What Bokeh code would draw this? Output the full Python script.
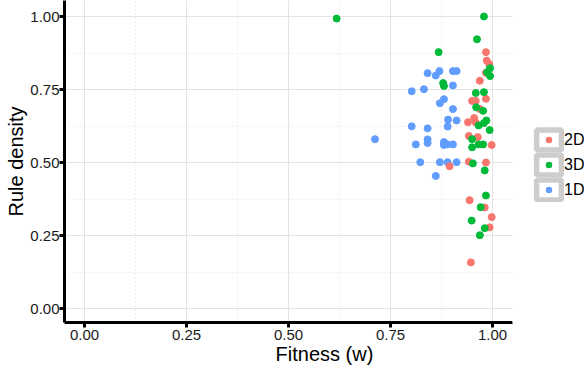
from bokeh.plotting import figure
from bokeh.models import (Legend, LegendItem, SingleIntervalTicker, BoxAnnotation,
                          NumeralTickFormatter, Range1d)
from bokeh.embed import file_html
from bokeh.resources import INLINE

# ---- data -------------------------------------------------------------
categories = ["2D", "3D", "1D"]
colors = ["#F8766D", "#00BA38", "#619CFF"]

fit_2d = [0.984, 0.986, 0.992, 0.984, 0.969, 0.984, 0.950, 0.959, 0.969, 0.955,
          0.940, 0.959, 0.942, 0.964, 0.998, 0.895, 0.942, 0.984, 0.944, 0.981,
          0.998, 0.993, 0.947]
dens_2d = [0.878, 0.849, 0.837, 0.807, 0.780, 0.718, 0.711, 0.711, 0.683, 0.652,
           0.638, 0.637, 0.591, 0.587, 0.560, 0.487, 0.503, 0.500, 0.371, 0.346,
           0.313, 0.278, 0.158]

fit_3d = [0.979, 0.962, 0.868, 0.618, 0.994, 0.987, 0.994, 0.879, 0.881, 0.959,
          0.979, 0.960, 0.977, 0.985, 0.979, 0.966, 0.993, 0.950, 0.950, 0.966,
          0.977, 0.952, 0.981, 0.984, 0.971, 0.949, 0.981, 0.969]
dens_3d = [1.000, 0.922, 0.878, 0.993, 0.823, 0.809, 0.796, 0.772, 0.762, 0.738,
           0.741, 0.689, 0.677, 0.644, 0.635, 0.627, 0.611, 0.580, 0.552, 0.562,
           0.562, 0.497, 0.473, 0.387, 0.347, 0.301, 0.275, 0.251]

fit_1d = [0.841, 0.861, 0.870, 0.903, 0.912, 0.903, 0.832, 0.802, 0.881, 0.871,
          0.903, 0.891, 0.912, 0.802, 0.841, 0.890, 0.712, 0.841, 0.841, 0.812,
          0.881, 0.881, 0.890, 0.903, 0.823, 0.871, 0.890, 0.912, 0.861]
dens_1d = [0.806, 0.798, 0.813, 0.813, 0.813, 0.764, 0.751, 0.744, 0.717, 0.703,
           0.683, 0.647, 0.644, 0.624, 0.617, 0.623, 0.580, 0.579, 0.567, 0.562,
           0.570, 0.560, 0.562, 0.562, 0.501, 0.501, 0.501, 0.501, 0.454]

series = {
    "2D": (fit_2d, dens_2d),
    "3D": (fit_3d, dens_3d),
    "1D": (fit_1d, dens_1d),
}
draw_order = ["1D", "2D", "3D"]

x_title = "Fitness (w)"
y_title = "Rule density"

# ---- figure -----------------------------------------------------------
FONT = "Liberation Sans"
NAN = float("nan")
X_LO, X_HI = -0.049, 1.049          # panel extent of the plotted area

# the frame runs on to the right edge so the legend can sit inside it;
# axis / grid are bounded to the panel and the strip beyond is masked
p = figure(width=584, height=370, output_backend="svg", toolbar_location=None,
           x_range=Range1d(X_LO, 1.2255), y_range=Range1d(-0.0479, 1.0548),
           min_border_left=64, min_border_right=0, min_border_top=0,
           min_border_bottom=48)
p.outline_line_color = None
p.background_fill_color = "white"

ticker = SingleIntervalTicker(interval=0.25, num_minor_ticks=2)
for ax in (p.xaxis[0], p.yaxis[0]):
    ax.ticker = ticker
    ax.formatter = NumeralTickFormatter(format="0.00")
    ax.axis_line_width = 3
    ax.axis_line_color = "black"
    ax.major_tick_line_width = 3
    ax.major_tick_line_color = "black"
    ax.major_tick_in = 0
    ax.major_tick_out = 5
    ax.minor_tick_line_color = None
    ax.major_label_text_font = FONT
    ax.major_label_text_font_size = "15px"
    ax.major_label_text_color = "#1a1a1a"
    ax.axis_label_text_font = FONT
    ax.axis_label_text_font_size = "20px"
    ax.axis_label_text_font_style = "normal"
    ax.axis_label_text_color = "black"
    ax.axis_label_standoff = 0

p.xaxis.bounds = (X_LO, X_HI)
p.xaxis.major_label_standoff = 2
p.yaxis.major_label_standoff = 0
p.xaxis.axis_label = x_title
p.yaxis.axis_label = y_title

for g in (p.xgrid[0], p.ygrid[0]):
    g.ticker = ticker
    g.grid_line_color = "#E3E3E3"
    g.grid_line_width = 1
    g.minor_grid_line_color = "#DCDCDC"
    g.minor_grid_line_width = 1
    g.minor_grid_line_dash = "1 3"
p.xgrid.bounds = (X_LO, X_HI)

color_of = dict(zip(categories, colors))
for cat in draw_order:
    xs, ys = series[cat]
    p.scatter(xs, ys, size=7, fill_color=color_of[cat], line_color=color_of[cat],
              line_width=1)

# white mask over the strip right of the panel (legend area)
p.add_layout(BoxAnnotation(left=X_HI, fill_color="white", fill_alpha=1.0,
                           line_color=None))

# ---- legend (boxed keys like ggplot); NaN rows draw nothing in the plot --
items = []
for cat in categories:
    box = p.quad(left=[NAN], right=[NAN], top=[NAN], bottom=[NAN],
                 fill_color="white", line_color="#CDCDCD", line_width=5.5)
    dot = p.scatter(x=[NAN], y=[NAN], fill_color=color_of[cat],
                    line_color="white", line_width=3.5)
    items.append(LegendItem(label=cat, renderers=[box, dot]))

legend = Legend(items=items, location=(469, 120), orientation="vertical",
                glyph_width=31, glyph_height=25, spacing=0, padding=0, margin=0,
                label_standoff=0, label_text_font=FONT, label_text_font_size="16px",
                label_text_color="black", border_line_color=None,
                background_fill_alpha=0)
p.add_layout(legend, "center")

open("out.html", "w").write(file_html(p, INLINE))
